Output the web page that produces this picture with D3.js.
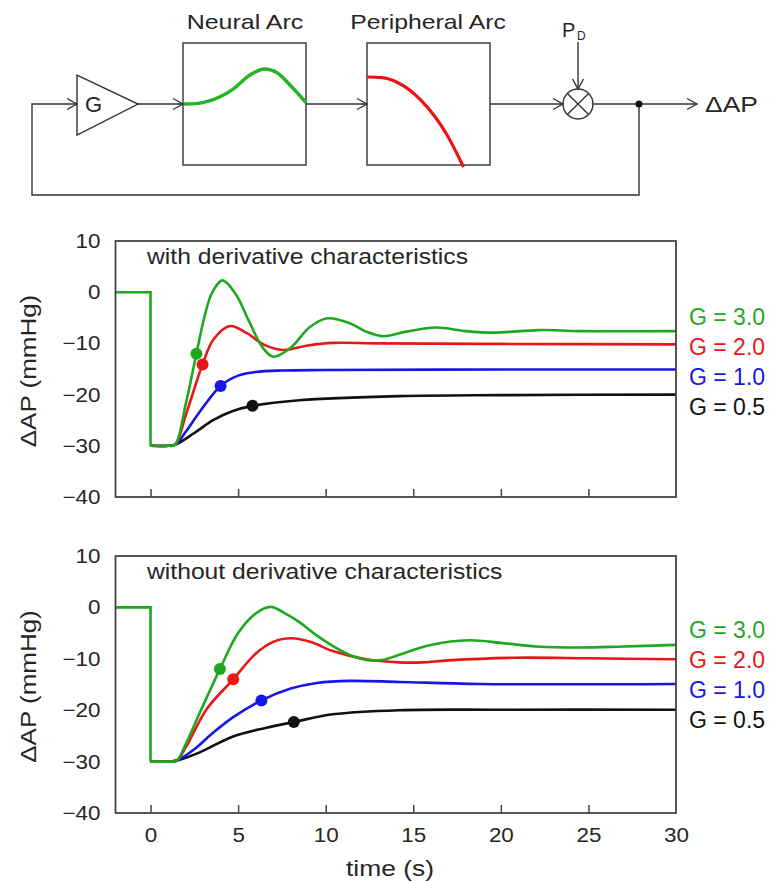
<!DOCTYPE html>
<html><head><meta charset="utf-8">
<script src="https://cdn.jsdelivr.net/npm/d3@7"></script>
<style>
body{margin:0;background:#fff}
text{font-family:"Liberation Sans",Arial,Helvetica,sans-serif;fill:#262626}
</style>
</head><body><svg id="c" width="773" height="882"></svg>
<script>
// ---------------- data ----------------
const timeTicks = [0, 5, 10, 15, 20, 25, 30];
const innerTicks = [0, 5, 10, 15, 20, 25];
const valueTicks = [10, 0, -10, -20, -30, -40];
const gainLabels = ["G = 3.0", "G = 2.0", "G = 1.0", "G = 0.5"];
const panelTitles = ["with derivative characteristics", "without derivative characteristics"];
const stepPart = [[-2, 0], [0, 0], [0, -30]];

// with derivative characteristics (top)
const withG30 = [[0,-30],[1.0,-30],[1.4,-29.8],[2.0,-22],[2.62,-12],[3.1,-4.5],[3.53,0],[4.1,2.3],[4.85,-0.3],[5.6,-5.5],[6.4,-10.8],[7.0,-12.6],[7.95,-11.0],[9.1,-6.8],[10.1,-5.1],[11.4,-6.1],[12.3,-7.7],[13.3,-8.6],[14.6,-7.7],[16.3,-6.9],[18.0,-7.6],[19.6,-7.9],[22.2,-7.4],[24.5,-7.6],[30,-7.6]];
const withG20 = [[0,-30],[1.0,-30],[1.4,-29.8],[2.05,-23.6],[2.97,-14.1],[3.6,-9.2],[4.53,-6.6],[5.5,-8.0],[6.5,-10.3],[7.57,-11.3],[9.0,-10.4],[10.4,-9.9],[13,-10.0],[20,-10.1],[30,-10.2]];
const withG10 = [[0,-30],[1.0,-30],[1.4,-29.8],[2.0,-27.3],[2.8,-23.4],[4.0,-18.3],[5.0,-16.3],[6.0,-15.6],[7.5,-15.3],[10,-15.2],[20,-15.1],[30,-15.1]];
const withG05 = [[0,-30],[1.0,-30],[1.4,-29.8],[2.5,-27.5],[3.57,-25.0],[4.7,-23.2],[5.82,-22.2],[8.5,-21.1],[14.2,-20.3],[20,-20.1],[30,-20.0]];
const withMarkers = [[2.62,-12.0],[2.97,-14.1],[4.0,-18.3],[5.82,-22.2]];

// without derivative characteristics (bottom)
const withoutG30 = [[0,-30],[1.1,-30],[1.5,-29.8],[2.05,-26.3],[2.81,-20.5],[3.96,-12.0],[5.0,-5.0],[6.0,-1.2],[6.85,0.1],[7.7,-1.2],[8.52,-2.9],[9.5,-5.5],[10.4,-7.5],[11.4,-9.3],[12.5,-10.3],[13.3,-10.2],[14.2,-9.2],[16.0,-7.3],[18.2,-6.4],[20,-6.9],[22,-7.6],[24.5,-7.8],[27,-7.6],[30,-7.3]];
const withoutG20 = [[0,-30],[1.1,-30],[1.5,-29.8],[2.05,-27],[3.2,-19.8],[4.72,-14.0],[6.0,-9.0],[7.0,-6.7],[8.05,-6.0],[9.2,-6.8],[10.4,-8.5],[12.3,-10.1],[14.2,-10.7],[15.5,-10.7],[17,-10.3],[20.7,-9.8],[25,-9.9],[30,-10.1]];
const withoutG10 = [[0,-30],[1.1,-30],[1.5,-29.8],[2.5,-27.6],[3.5,-24.6],[4.7,-21.4],[6.33,-18.1],[8.0,-15.8],[9.5,-14.7],[11.4,-14.3],[14.2,-14.5],[18.8,-14.9],[30,-14.9]];
const withoutG05 = [[0,-30],[1.1,-30],[1.5,-29.8],[2.81,-28.2],[4.71,-25.1],[6.62,-23.4],[8.18,-22.3],[10.4,-20.8],[14.2,-20.0],[20,-19.9],[30,-19.9]];
const withoutMarkers = [[3.96,-12.0],[4.72,-14.0],[6.33,-18.1],[8.18,-22.3]];

// schematic block shapes (normalized)
const neuralShape = [[0,0],[0.1,0.01],[0.2,0.08],[0.4,0.42],[0.55,0.85],[0.66,1],[0.76,0.9],[0.88,0.5],[1,0.04]];
const peripheralShape = [[0,0],[0.12,0.007],[0.24,0.055],[0.44,0.26],[0.645,0.63],[0.785,1.0]];

// ---------------- styles ----------------
const colors = ["#1fa81f", "#ea1616", "#1616e6", "#111111"]; // G=3,2,1,0.5

const svg = d3.select("#c");
svg.append("rect").attr("width", 773).attr("height", 882).attr("fill", "#fff");

function widen(sel, k) {
  sel.each(function () {
    const w = this.getComputedTextLength();
    this.setAttribute("textLength", w * k);
    this.setAttribute("lengthAdjust", "spacingAndGlyphs");
  });
}

// ---------------- panels ----------------
const x = d3.scaleLinear().domain([-2, 30]).range([115.5, 676]);

const panels = [
  { top: 241, bottom: 497, series: [withG30, withG20, withG10, withG05], markers: withMarkers, title: panelTitles[0], labels: false },
  { top: 556, bottom: 813, series: [withoutG30, withoutG20, withoutG10, withoutG05], markers: withoutMarkers, title: panelTitles[1], labels: true }
];

panels.forEach(p => {
  const y = d3.scaleLinear().domain([-40, 10]).range([p.bottom, p.top]);
  const g = svg.append("g");

  const tAx = g.append("g").attr("transform", `translate(0,${p.bottom})`)
    .call(d3.axisBottom(x).tickValues(innerTicks).tickSize(-8).tickFormat(""));
  tAx.select(".domain").remove();
  tAx.selectAll("line").attr("stroke", "#444").attr("stroke-width", 1.5);

  const yAx = g.append("g").attr("transform", `translate(${x(-2)},0)`)
    .call(d3.axisLeft(y).tickValues(valueTicks).tickSize(0).tickPadding(15));
  yAx.select(".domain").remove();
  yAx.selectAll("text").attr("font-size", 20).attr("fill", "#262626")
    .attr("font-family", '"Liberation Sans",Arial,sans-serif');
  widen(yAx.selectAll("text"), 1.12);

  if (p.labels) {
    const xAx = g.append("g").attr("transform", `translate(0,${p.bottom})`)
      .call(d3.axisBottom(x).tickValues(timeTicks).tickSize(0).tickPadding(15));
    xAx.select(".domain").remove();
    xAx.selectAll("text").attr("font-size", 20).attr("fill", "#262626")
      .attr("font-family", '"Liberation Sans",Arial,sans-serif');
    widen(xAx.selectAll("text"), 1.12);
  }

  const smooth = d3.line().x(d => x(d[0])).y(d => y(d[1])).curve(d3.curveCatmullRom.alpha(0.5));
  const straight = d3.line().x(d => x(d[0])).y(d => y(d[1]));
  [3, 2, 1, 0].forEach(i => {
    g.append("path").attr("d", smooth(p.series[i])).attr("fill", "none")
      .attr("stroke", colors[i]).attr("stroke-width", 2.6).attr("stroke-linejoin", "round");
  });
  [3, 2, 1, 0].forEach(i => {
    g.append("circle").attr("cx", x(p.markers[i][0])).attr("cy", y(p.markers[i][1]))
      .attr("r", 6).attr("fill", colors[i]);
  });
  g.append("path").attr("d", straight(stepPart)).attr("fill", "none")
    .attr("stroke", colors[0]).attr("stroke-width", 2.6).attr("stroke-linejoin", "miter");

  g.append("rect").attr("x", x(-2)).attr("y", p.top).attr("width", x(30) - x(-2))
    .attr("height", p.bottom - p.top).attr("fill", "none").attr("stroke", "#444").attr("stroke-width", 1.8);

  const tt = g.append("text").attr("x", x(-2) + 31.5).attr("y", p.top + 22.5)
    .attr("font-size", 22).text(p.title);
  widen(tt, 1.122);

  const yc = (p.top + p.bottom) / 2 + 2;
  const yt = g.append("text").attr("transform", `translate(28,${yc}) rotate(-90)`)
    .attr("text-anchor", "middle").attr("dy", "0.35em").attr("font-size", 22).text("ΔAP (mmHg)");
  widen(yt, 1.18);

  const firstY = y(p.series[0][p.series[0].length - 1][1]) - 14.5;
  gainLabels.forEach((lab, i) => {
    g.append("text").attr("x", 689).attr("y", firstY + i * 30).attr("dy", "0.35em")
      .attr("font-size", 23).style("fill", colors[i]).text(lab);
  });
});

const xt = svg.append("text").attr("x", 390).attr("y", 876).attr("text-anchor", "middle")
  .attr("font-size", 22).text("time (s)");
widen(xt, 1.2);

// ---------------- block diagram ----------------
const dg = svg.append("g").attr("stroke", "#333").attr("stroke-width", 1.4).attr("fill", "none");
const lineY = 104;
function chevron(tx, ty, dir) {
  if (dir === "r") dg.append("path").attr("d", `M${tx - 10},${ty - 5.5}L${tx},${ty}L${tx - 10},${ty + 5.5}`);
  else dg.append("path").attr("d", `M${tx - 5.5},${ty - 10}L${tx},${ty}L${tx + 5.5},${ty - 10}`);
}
dg.append("path").attr("d", `M639,${lineY}V195H32V${lineY}H77`);
chevron(77, lineY, "r");
dg.append("path").attr("d", `M77,75L77,135L138,${lineY}Z`);
dg.append("path").attr("d", `M138,${lineY}H183`);
chevron(183, lineY, "r");
dg.append("rect").attr("x", 183).attr("y", 43).attr("width", 123).attr("height", 122);
dg.append("path").attr("d", `M306,${lineY}H367`);
chevron(367, lineY, "r");
dg.append("rect").attr("x", 367).attr("y", 43).attr("width", 123).attr("height", 122);
dg.append("path").attr("d", `M490,${lineY}H563`);
chevron(563, lineY, "r");
dg.append("circle").attr("cx", 578).attr("cy", lineY).attr("r", 15);
const d45 = 15 * Math.SQRT1_2;
dg.append("path").attr("d", `M${578 - d45},${lineY - d45}L${578 + d45},${lineY + d45}M${578 - d45},${lineY + d45}L${578 + d45},${lineY - d45}`);
dg.append("path").attr("d", `M578,42V89`);
chevron(578, 89, "d");
dg.append("path").attr("d", `M593,${lineY}H697`);
chevron(697, lineY, "r");
svg.append("circle").attr("cx", 639).attr("cy", lineY).attr("r", 3.5).attr("fill", "#111");

const nx = d3.scaleLinear().domain([0, 1]).range([184, 306]);
const ny = d3.scaleLinear().domain([0, 1]).range([lineY, 69]);
svg.append("path").attr("d", d3.line().x(d => nx(d[0])).y(d => ny(d[1])).curve(d3.curveMonotoneX)(neuralShape))
  .attr("fill", "none").attr("stroke", "#22b422").attr("stroke-width", 3.4);
const px = d3.scaleLinear().domain([0, 1]).range([367, 490]);
const py = d3.scaleLinear().domain([0, 1]).range([77, 167]);
svg.append("path").attr("d", d3.line().x(d => px(d[0])).y(d => py(d[1])).curve(d3.curveMonotoneX)(peripheralShape))
  .attr("fill", "none").attr("stroke", "#ee1111").attr("stroke-width", 3.2);

const t1 = svg.append("text").attr("x", 245).attr("y", 29).attr("text-anchor", "middle").attr("font-size", 21).text("Neural Arc");
widen(t1, 1.19);
const t2 = svg.append("text").attr("x", 428).attr("y", 29).attr("text-anchor", "middle").attr("font-size", 21).text("Peripheral Arc");
widen(t2, 1.18);
svg.append("text").attr("x", 93.5).attr("y", lineY).attr("dy", "0.36em").attr("text-anchor", "middle").attr("font-size", 22).text("G");
svg.append("text").attr("x", 562).attr("y", 37).attr("font-size", 20).text("P");
svg.append("text").attr("x", 577).attr("y", 40).attr("font-size", 12).text("D");
const t3 = svg.append("text").attr("x", 705).attr("y", lineY).attr("dy", "0.36em").attr("font-size", 22).text("ΔAP");
widen(t3, 1.2);
</script>
</body></html>
